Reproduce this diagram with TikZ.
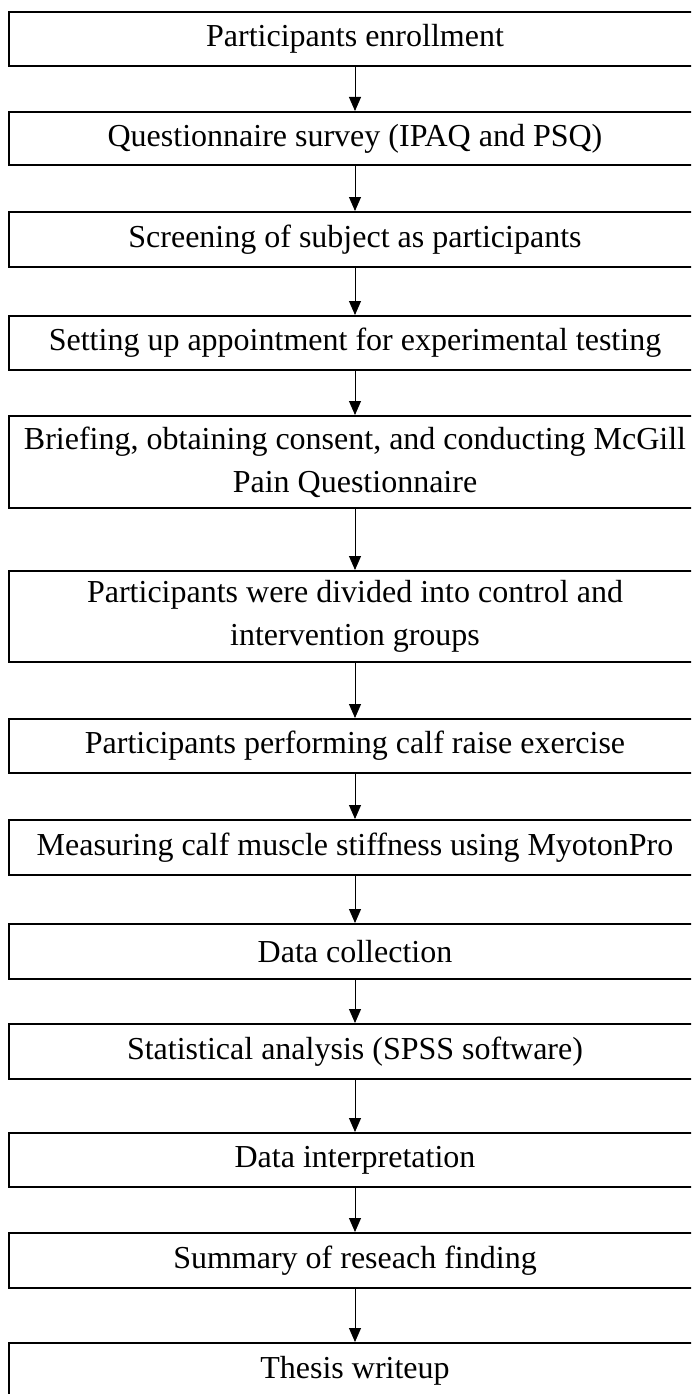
\documentclass[tikz,border=0pt]{standalone}
\usepackage{fontspec}
\setmainfont{Liberation Serif}
\usetikzlibrary{arrows.meta}
\tikzset{
  stepbox/.style={draw=black, line width=2.1pt, fill=white, minimum width=692pt, inner sep=0pt, align=center, font=\fontsize{32}{43}\selectfont, anchor=north},
  flow/.style={draw=black, line width=0.9pt, -{Triangle[length=14pt,width=12pt]}}
}
\begin{document}
\begin{tikzpicture}[x=1pt,y=-1pt]
\useasboundingbox (0,0) rectangle (691,1394);
\clip (0,0) rectangle (691,1394);
\node[stepbox, minimum height=54pt] (b1) at (355,11) {Participants enrollment};
\node[stepbox, minimum height=53pt] (b2) at (355,111) {Questionnaire survey (IPAQ and PSQ)};
\node[stepbox, minimum height=55pt] (b3) at (355,211) {Screening of subject as participants};
\node[stepbox, minimum height=54pt] (b4) at (355,315) {Setting up appointment for experimental testing};
\node[stepbox, minimum height=92pt] (b5) at (355,415) {Briefing, obtaining consent, and conducting McGill\\Pain Questionnaire};
\node[stepbox, minimum height=91pt] (b6) at (355,570) {Participants were divided into control and\\intervention groups};
\node[stepbox, minimum height=54pt] (b7) at (355,718) {Participants performing calf raise exercise};
\node[stepbox, minimum height=55pt] (b8) at (355,819) {Measuring calf muscle stiffness using MyotonPro};
\node[stepbox, minimum height=55pt] (b9) at (355,923) {Data collection};
\node[stepbox, minimum height=55pt] (b10) at (355,1023) {Statistical analysis (SPSS software)};
\node[stepbox, minimum height=54pt] (b11) at (355,1132) {Data interpretation};
\node[stepbox, minimum height=55pt] (b12) at (355,1232) {Summary of reseach finding};
\node[stepbox, minimum height=56pt] (b13) at (355,1342) {Thesis writeup};
\foreach \a/\b in {b1/b2,b2/b3,b3/b4,b4/b5,b5/b6,b6/b7,b7/b8,b8/b9,b9/b10,b10/b11,b11/b12,b12/b13}
  \draw[flow] (\a.south) -- (\b.north);
\end{tikzpicture}
\end{document}
